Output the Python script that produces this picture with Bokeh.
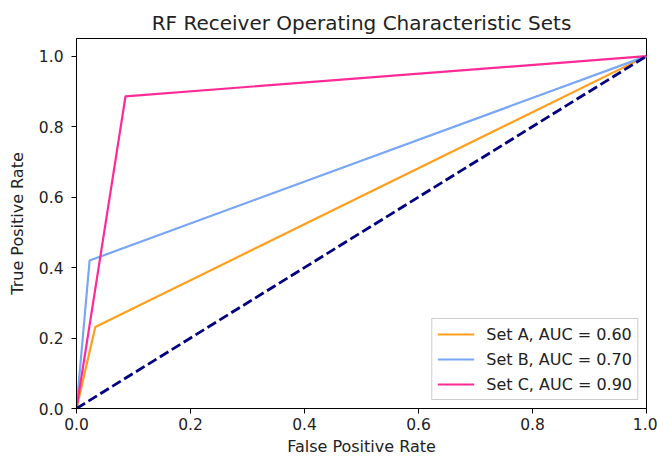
from bokeh.plotting import figure
from bokeh.models import Range1d, FixedTicker, PrintfTickFormatter, Legend, LegendItem
from bokeh.embed import file_html
from bokeh.resources import INLINE

# Data
fpr_a = [0.0, 0.033, 1.0]
tpr_a = [0.0, 0.231, 1.0]
fpr_b = [0.0, 0.023, 1.0]
tpr_b = [0.0, 0.420, 1.0]
fpr_c = [0.0, 0.086, 1.0]
tpr_c = [0.0, 0.886, 1.0]
chance_x = [0.0, 1.0]
chance_y = [0.0, 1.0]
labels = ["Set A, AUC = 0.60", "Set B, AUC = 0.70", "Set C, AUC = 0.90"]
ticks = [0.0, 0.2, 0.4, 0.6, 0.8, 1.0]

FONT = "DejaVu Sans"

p = figure(frame_width=570, frame_height=370, output_backend="svg", toolbar_location=None,
           x_range=Range1d(0, 1), y_range=Range1d(0, 1.05),
           title="RF Receiver Operating Characteristic Sets")
p.min_border_left = 76
p.min_border_right = 11
p.min_border_top = 38
p.min_border_bottom = 56
p.background_fill_color = "white"
p.border_fill_color = "white"
p.outline_line_color = "black"
p.outline_line_width = 1
p.xgrid.visible = False
p.ygrid.visible = False

p.title.align = "center"
p.title.text_font = FONT
p.title.text_font_size = "20px"
p.title.text_font_style = "normal"
p.title.text_color = "#222222"
p.title.standoff = 8

for ax, lab in ((p.xaxis[0], "False Positive Rate"), (p.yaxis[0], "True Positive Rate")):
    ax.ticker = FixedTicker(ticks=ticks)
    ax.formatter = PrintfTickFormatter(format="%.1f")
    ax.axis_label = lab
    ax.axis_label_text_font = FONT
    ax.axis_label_text_font_size = "16px"
    ax.axis_label_text_font_style = "normal"
    ax.axis_label_text_color = "#222222"
    ax.major_label_text_font = FONT
    ax.major_label_text_font_size = "15.5px"
    ax.major_label_text_color = "#222222"
    ax.minor_tick_line_color = None
    ax.major_tick_out = 5
    ax.major_tick_in = 0
    ax.axis_line_color = "black"
    ax.major_tick_line_color = "black"
    ax.axis_label_standoff = 4
    ax.major_label_standoff = 4

p.yaxis[0].major_label_standoff = 8
p.yaxis[0].axis_label_standoff = 9

ra = p.line(fpr_a, tpr_a, line_color="#ff9f1c", line_width=2.2)
rb = p.line(fpr_b, tpr_b, line_color="#79a6f5", line_width=2.2)
rc = p.line(fpr_c, tpr_c, line_color="#ff2a96", line_width=2.2)
p.line(chance_x, chance_y, line_color="#000080", line_width=2.8, line_dash="10 4")

legend = Legend(items=[LegendItem(label=labels[0], renderers=[ra]),
                       LegendItem(label=labels[1], renderers=[rb]),
                       LegendItem(label=labels[2], renderers=[rc])],
                location="bottom_right")
legend.label_text_font = FONT
legend.label_text_font_size = "16px"
legend.label_text_color = "#222222"
legend.border_line_color = "#cccccc"
legend.border_line_alpha = 1
legend.background_fill_alpha = 0.8
legend.glyph_width = 37
legend.glyph_height = 20
legend.label_height = 20
legend.spacing = 5
legend.padding = 5
legend.margin = 8
legend.label_standoff = 12
p.add_layout(legend)

open("out.html", "w").write(file_html(p, INLINE))
